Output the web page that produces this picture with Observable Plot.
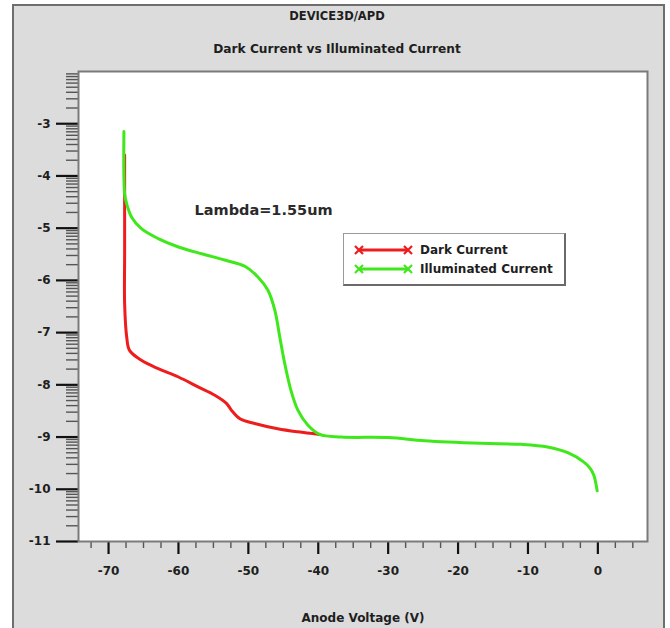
<!DOCTYPE html>
<html>
<head>
<meta charset="utf-8">
<script src="https://cdn.jsdelivr.net/npm/d3@7"></script>
<script src="https://cdn.jsdelivr.net/npm/@observablehq/plot@0.6"></script>
<style>
  body { margin: 0; background: #fff; }
  #wrap { position: relative; width: 670px; height: 628px; overflow: hidden; background: #fff;
          font-family: "DejaVu Sans", sans-serif; font-weight: bold; color: #1e1e1e; }
  #panel { position: absolute; left: 12px; top: 4px; width: 649px; height: 660px;
           background: #dcdcdc; border: 2px solid #6e6e6e; }
  .t { position: absolute; left: 2px; width: 670px; text-align: center; white-space: nowrap; }
  #chart { position: absolute; left: 0; top: 0; }
  #legend { position: absolute; left: 343px; top: 233px; width: 220px; height: 50px; background: #fff;
            border: 1px solid #9a9a9a; border-right: 2px solid #6a6a6a; border-bottom: 2px solid #6a6a6a;
            font-size: 12px; }
  #legend svg { position: absolute; left: 0; top: 0; }
  #legend .lab { position: absolute; left: 76px; line-height: 14px; white-space: nowrap; }
</style>
</head>
<body>
<div id="wrap">
  <div id="panel"></div>
  <div id="chart"></div>
  <div class="t" id="title" style="top:9px;font-size:11.5px;">DEVICE3D/APD</div>
  <div class="t" id="subtitle" style="top:42px;font-size:12.2px;">Dark Current vs Illuminated Current</div>
  <div id="legend"></div>
</div>
<script>
// ---- data ----
const darkV  = [-67.7, -67.7, -67.7, -67.4, -67.0, -65.3, -62.9, -60.0, -57.2, -54.8, -53.1, -52.4, -51.2, -49.1, -45.8, -42.9, -39.8];
const darkI  = [-3.6, -5.5, -6.45, -7.09, -7.34, -7.53, -7.69, -7.85, -8.04, -8.20, -8.36, -8.49, -8.65, -8.74, -8.84, -8.90, -8.95];
const illumV = [-67.8, -67.7, -67.4, -66.7, -65.3, -62.9, -60.0, -56.7, -53.4, -50.5, -48.6, -47.2, -46.2, -45.5, -44.8, -43.9, -42.9, -41.5, -39.8, -36.7, -30.0, -24.8, -16.7, -11.0, -7.2, -4.3, -2.0, -1.1, -0.55, -0.3, -0.1];
const illumI = [-3.15, -4.34, -4.54, -4.79, -5.01, -5.20, -5.36, -5.49, -5.61, -5.73, -5.94, -6.19, -6.58, -7.09, -7.59, -8.11, -8.49, -8.77, -8.95, -9.00, -9.01, -9.07, -9.12, -9.14, -9.19, -9.30, -9.48, -9.60, -9.74, -9.88, -10.03];
const seriesNames = ["Dark Current", "Illuminated Current"];
const seriesColors = ["#ee1c1c", "#3fe81a"];
const yMajorTicks = [-11, -10, -9, -8, -7, -6, -5, -4, -3];
const xMajorTicks = [-70, -60, -50, -40, -30, -20, -10, 0];
const xMinorTicks = [-72.5, -67.5, -65, -62.5, -57.5, -55, -52.5, -47.5, -45, -42.5, -37.5, -35, -32.5, -27.5, -25, -22.5, -17.5, -15, -12.5, -7.5, -5, -2.5, 2.5, 5];
const annotation = [{v: -57.7, i: -4.66, text: "Lambda=1.55um"}];
const xTitle = "Anode Voltage (V)";

// log-style minor ticks within each decade
const yMinorTicks = [];
for (const d of yMajorTicks) for (let k = 2; k <= 9; k++) yMinorTicks.push(d + Math.log10(k));

const dark = darkV.map((v, j) => ({v, i: darkI[j]}));
const illum = illumV.map((v, j) => ({v, i: illumI[j]}));

const chart = Plot.plot({
  width: 670, height: 628,
  marginLeft: 78, marginRight: 23, marginTop: 71, marginBottom: 87,
  style: {background: "transparent", fontFamily: "DejaVu Sans, sans-serif", fontSize: "12px", fontWeight: "bold", color: "#1e1e1e"},
  x: {domain: [-74.3, 7.1]},
  y: {domain: [-11, -2]},
  marks: [
    Plot.frame({fill: "white"}),
    Plot.axisY(yMinorTicks, {tickSize: 12, text: null, stroke: "#555", strokeWidth: 1.4, label: null}),
    Plot.axisY(yMajorTicks, {tickSize: 22, tickPadding: 6, stroke: "#111", strokeWidth: 2.2, label: null, tickFormat: d => String(d)}),
    Plot.axisX(xMinorTicks, {tickSize: 7, text: null, stroke: "#555", strokeWidth: 1.4, label: null}),
    Plot.axisX(xMajorTicks, {tickSize: 13, tickPadding: 12, stroke: "#111", strokeWidth: 2.2, tickFormat: d => String(d),
      label: xTitle, labelAnchor: "center", labelOffset: 80, labelArrow: "none"}),
    Plot.line(dark, {x: "v", y: "i", stroke: seriesColors[0], strokeWidth: 3, curve: "catmull-rom"}),
    Plot.line(illum, {x: "v", y: "i", stroke: seriesColors[1], strokeWidth: 3, curve: "catmull-rom"}),
    Plot.text(annotation, {x: "v", y: "i", text: "text", textAnchor: "start", fontSize: 14.5, fill: "#2a2a2a"}),
    Plot.frame({stroke: "#7a7a7a", strokeWidth: 2})
  ]
});
document.getElementById("chart").appendChild(chart);

// legend
const leg = d3.select("#legend");
const svg = leg.append("svg").attr("width", 220).attr("height", 50);
seriesNames.forEach((name, k) => {
  const y = 16 + k * 19;
  svg.append("line").attr("x1", 15).attr("x2", 64).attr("y1", y).attr("y2", y)
     .attr("stroke", seriesColors[k]).attr("stroke-width", 3);
  for (const cx of [15, 64]) {
    svg.append("path").attr("d", `M${cx-4},${y-4}L${cx+4},${y+4}M${cx-4},${y+4}L${cx+4},${y-4}`)
       .attr("stroke", seriesColors[k]).attr("stroke-width", 2.2);
  }
  leg.append("div").attr("class", "lab").style("top", (y - 7) + "px").text(name);
});
</script>
</body>
</html>
